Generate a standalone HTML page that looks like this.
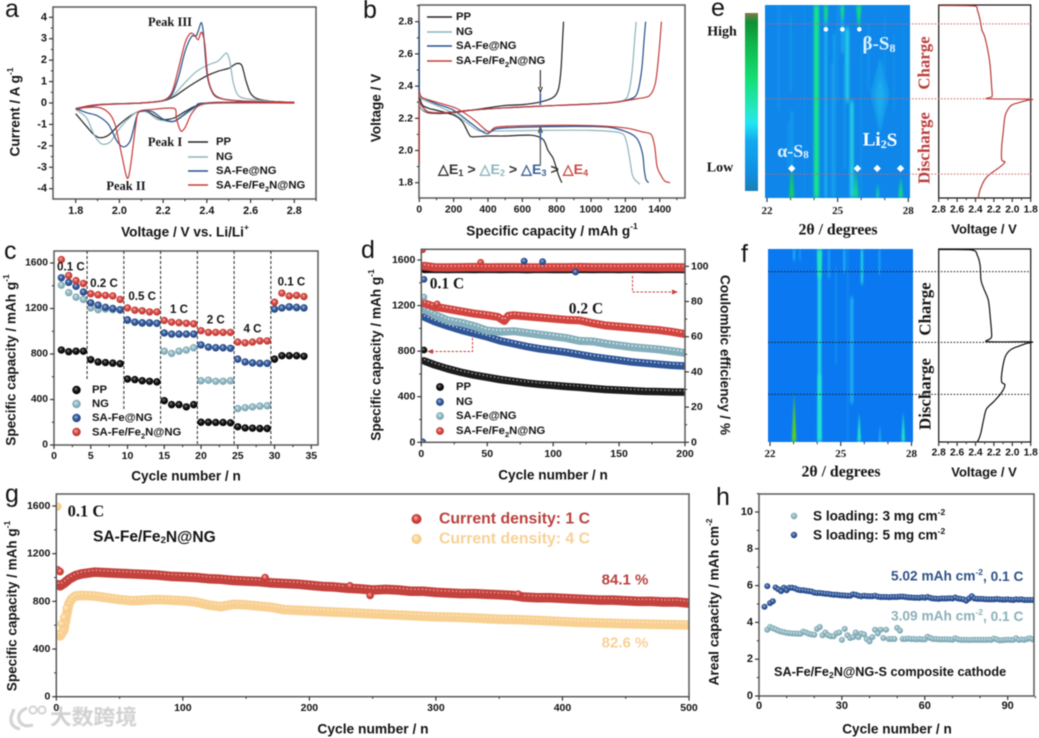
<!DOCTYPE html>
<html lang="en">
<head>
<meta charset="utf-8">
<title>Battery performance figure</title>
<style>
html,body{margin:0;padding:0;background:#fff;}
svg{display:block;filter:blur(.4px);}
text{font-family:"Liberation Sans",sans-serif;font-weight:bold;fill:#141414;dominant-baseline:central;}
.tick{font-size:11px;}
.lab{font-size:13.6px;text-anchor:middle;}
.leg{font-size:11.3px;}
.ser{font-family:"Liberation Serif",serif;font-size:12.5px;text-anchor:middle;}
.letter{font-size:25px;font-weight:normal;dominant-baseline:auto;}
.frame{fill:none;stroke:#5a5a5a;stroke-width:1.5;}
</style>
</head>
<body>
<svg id="figure" xmlns="http://www.w3.org/2000/svg" width="1039" height="738" viewBox="0 0 1039 738">
<defs>
<radialGradient id="bead-black" cx=".5" cy=".5" r=".6" fx=".4" fy=".35"><stop offset="0" stop-color="#8a8a8a"/><stop offset=".45" stop-color="#111"/><stop offset="1" stop-color="#000"/></radialGradient>
<radialGradient id="bead-light" cx=".5" cy=".5" r=".6" fx=".4" fy=".35"><stop offset="0" stop-color="#d8e8ec"/><stop offset=".5" stop-color="#8db5c0"/><stop offset="1" stop-color="#6c98a5"/></radialGradient>
<radialGradient id="bead-blue" cx=".5" cy=".5" r=".6" fx=".4" fy=".35"><stop offset="0" stop-color="#a9bfe0"/><stop offset=".5" stop-color="#2f5597"/><stop offset="1" stop-color="#1f3f78"/></radialGradient>
<radialGradient id="bead-red" cx=".5" cy=".5" r=".6" fx=".4" fy=".35"><stop offset="0" stop-color="#f4b8b0"/><stop offset=".5" stop-color="#d2433e"/><stop offset="1" stop-color="#b8302e"/></radialGradient>
<radialGradient id="bead-yellow" cx=".5" cy=".5" r=".6" fx=".4" fy=".35"><stop offset="0" stop-color="#fff0d8"/><stop offset=".5" stop-color="#f9d394"/><stop offset="1" stop-color="#f3c277"/></radialGradient>
<linearGradient id="colorbar-gradient" x1="0" y1="0" x2="0" y2="1">
<stop offset="0" stop-color="#807a45"/><stop offset=".05" stop-color="#0f8f35"/><stop offset=".18" stop-color="#0fb84c"/><stop offset=".38" stop-color="#14e078"/><stop offset=".55" stop-color="#28e6c8"/><stop offset=".62" stop-color="#22e6f2"/><stop offset=".72" stop-color="#14a8ee"/><stop offset=".9" stop-color="#118fe0"/><stop offset="1" stop-color="#1a7fb4"/>
</linearGradient>
<filter id="heat-blur-e" x="-50%" y="-20%" width="200%" height="140%"><feGaussianBlur stdDeviation="1 2.4"/></filter>
<filter id="heat-blur-f" x="-50%" y="-20%" width="200%" height="140%"><feGaussianBlur stdDeviation=".9 2"/></filter>
<clipPath id="clip-e"><rect x="765" y="5" width="145" height="193"/></clipPath>
<clipPath id="clip-f"><rect x="768" y="249" width="145" height="193"/></clipPath>
<clipPath id="clip-d"><rect x="421.3" y="249.3" width="263.7" height="193"/></clipPath>
<clipPath id="clip-g"><rect x="56.3" y="494" width="632.7" height="202.7"/></clipPath>
<clipPath id="clip-h"><rect x="759" y="494" width="275" height="202"/></clipPath>
</defs>

<!-- PANEL A -->
<g id="panel-a">
<text class="letter" x="5" y="17">a</text>
<text class="ser" x="170" y="22">Peak III</text>
<text class="ser" x="165" y="142">Peak I</text>
<text class="ser" x="126" y="186">Peak II</text>
<text class="leg" x="216" y="142">PP</text>
<text class="leg" x="216" y="157">NG</text>
<text class="leg" x="216" y="171">SA-Fe@NG</text>
<text class="leg" x="216" y="185.5">SA-Fe/Fe<tspan dy="3" font-size="7.5">2</tspan><tspan dy="-3">N@NG</tspan></text>
<text class="lab" x="185" y="232">Voltage / V vs. Li/Li<tspan dy="-5" font-size="8.5">+</tspan></text>
<text class="lab" transform="translate(15 112) rotate(-90)">Current / A g<tspan dy="-5" font-size="8.5">-1</tspan></text>
</g>

<!-- PANEL B -->
<g id="panel-b">
<text class="letter" x="363" y="18">b</text>
<text class="leg" x="456" y="17">PP</text>
<text class="leg" x="456" y="32">NG</text>
<text class="leg" x="456" y="46">SA-Fe@NG</text>
<text class="leg" x="456" y="61">SA-Fe/Fe<tspan dy="3" font-size="7.5">2</tspan><tspan dy="-3">N@NG</tspan></text>
<text x="438" y="170" font-size="14.2"><tspan style="fill:#333">△E</tspan><tspan dy="3" font-size="9" style="fill:#333">1</tspan><tspan dy="-3" style="fill:#333"> &gt; </tspan><tspan style="fill:#8db5c0">△E</tspan><tspan dy="3" font-size="9" style="fill:#8db5c0">2</tspan><tspan dy="-3" style="fill:#333"> &gt; </tspan><tspan style="fill:#3a6296">△E</tspan><tspan dy="3" font-size="9" style="fill:#3a6296">3</tspan><tspan dy="-3" style="fill:#333"> &gt; </tspan><tspan style="fill:#c84a46">△E</tspan><tspan dy="3" font-size="9" style="fill:#c84a46">4</tspan></text>
<text class="lab" x="552" y="231">Specific capacity / mAh g<tspan dy="-5" font-size="8.5">-1</tspan></text>
<text class="lab" transform="translate(376 108) rotate(-90)">Voltage / V</text>
</g>

<!-- PANEL C -->
<g id="panel-c">
<text class="letter" x="4" y="259">c</text>
<text class="lab" x="186" y="476">Cycle number / n</text>
<text class="lab" transform="translate(11 360) rotate(-90)">Specific capacity / mAh g<tspan dy="-5" font-size="8.5">-1</tspan></text>
<text class="leg" x="92" y="390">PP</text>
<text class="leg" x="92" y="404">NG</text>
<text class="leg" x="92" y="418">SA-Fe@NG</text>
<text class="leg" x="92" y="432.5">SA-Fe/Fe<tspan dy="3" font-size="7.5">2</tspan><tspan dy="-3">N@NG</tspan></text>
</g>

<!-- PANEL D -->
<g id="panel-d">
<text class="letter" x="361" y="258">d</text>
<text class="lab" x="553" y="475">Cycle number / n</text>
<text class="lab" transform="translate(376 355) rotate(-90)">Specific capacity / mAh g<tspan dy="-5" font-size="8.5">-1</tspan></text>
<text class="lab" transform="translate(725 355) rotate(90)">Coulombic efficiency / %</text>
<text class="leg" x="456" y="387">PP</text>
<text class="leg" x="456" y="402">NG</text>
<text class="leg" x="456" y="416">SA-Fe@NG</text>
<text class="leg" x="456" y="431">SA-Fe/Fe<tspan dy="3" font-size="7.5">2</tspan><tspan dy="-3">N@NG</tspan></text>
</g>

<!-- PANEL E -->
<g id="panel-e">
<text class="letter" x="711" y="16">e</text>
<text class="ser" x="722" y="32" style="font-size:14px">High</text>
<text class="ser" x="720" y="168" style="font-size:14px">Low</text>
<rect x="745" y="13" width="13" height="178" fill="url(#colorbar-gradient)"/>
</g>

<!-- PANEL F -->
<g id="panel-f">
<text class="letter" x="741" y="262">f</text>
</g>

<!-- PANEL G -->
<g id="panel-g">
<text class="letter" x="5" y="502">g</text>
<text class="ser" x="86" y="511" style="font-size:16.5px">0.1 C</text>
<text x="93" y="537" font-size="15.6">SA-Fe/Fe<tspan dy="3" font-size="9.5">2</tspan><tspan dy="-3">N@NG</tspan></text>
<text x="439" y="519" font-size="16" textLength="151" lengthAdjust="spacingAndGlyphs" style="fill:#b9413d">Current density: 1 C</text>
<text x="439" y="539" font-size="16" textLength="151" lengthAdjust="spacingAndGlyphs" style="fill:#f8d196">Current density: 4 C</text>
<text x="625" y="580" font-size="15" text-anchor="middle" style="fill:#b9413d">84.1 %</text>
<text x="625" y="643" font-size="15" text-anchor="middle" style="fill:#f8d196">82.6 %</text>
<text class="lab" x="373" y="729" style="font-size:13.8px">Cycle number / n</text>
<text class="lab" transform="translate(12 606) rotate(-90)" style="font-size:13.5px">Specific capacity / mAh g<tspan dy="-5" font-size="8.5">-1</tspan></text>
</g>

<!-- PANEL H -->
<g id="panel-h">
<text class="letter" x="716" y="505">h</text>
<text x="813" y="516" font-size="13.6">S loading: 3 mg cm<tspan dy="-4" font-size="8.5">-2</tspan></text>
<text x="813" y="535" font-size="13.6">S loading: 5 mg cm<tspan dy="-4" font-size="8.5">-2</tspan></text>
<text x="891" y="576" font-size="13.7" style="fill:#2e5287">5.02 mAh cm<tspan dy="-4" font-size="8.5" style="fill:#2e5287">-2</tspan><tspan dy="4" style="fill:#2e5287">, 0.1 C</tspan></text>
<text x="891" y="616" font-size="13.7" style="fill:#8bb0b9">3.09 mAh cm<tspan dy="-4" font-size="8.5" style="fill:#8bb0b9">-2</tspan><tspan dy="4" style="fill:#8bb0b9">, 0.1 C</tspan></text>
<text x="774" y="672" font-size="12.7">SA-Fe/Fe<tspan dy="3" font-size="8.5">2</tspan><tspan dy="-3">N@NG-S composite cathode</tspan></text>
<text class="lab" x="897" y="729">Cycle number / n</text>
<text class="lab" transform="translate(714 602) rotate(-90)" style="font-size:13.8px">Areal capacity / mAh cm<tspan dy="-5" font-size="8.5">-2</tspan></text>
</g>

<!-- WATERMARK -->
<g id="watermark">
<path d="M14 709 L11 717 Q10 727 20 729 M27 708 Q17 712 19 720 Q22 728 33 725" fill="none" stroke="#d4d4d4" stroke-width="3.2"/>
<circle cx="33" cy="710" r="3.6" fill="none" stroke="#d4d4d4" stroke-width="2"/>
<circle cx="42" cy="710" r="3.6" fill="none" stroke="#d4d4d4" stroke-width="2"/>
<text x="50" y="718" font-size="21" textLength="87" lengthAdjust="spacingAndGlyphs" style="font-family:'Liberation Sans','Noto Sans CJK SC',sans-serif;font-weight:bold;fill:#cfcfcf;stroke:#e8e8e8;stroke-width:.6">大数跨境</text>
</g>
</svg>

<script>
/* ---------- PANEL A DATA ---------- */
const aXTicks=['1.8','2.0','2.2','2.4','2.6','2.8'];
const aYTicks=['-4','-3','-2','-1','0','1','2','3','4'];
const aPpUpV=[1.8,1.85,1.9,2.0,2.1,2.2,2.25,2.3,2.35,2.4,2.45,2.5,2.52,2.54,2.56,2.58,2.6,2.63,2.7,2.8];
const aPpUpI=[-.3,-.15,-.08,-.03,0,.1,.3,.65,.98,1.27,1.48,1.62,1.75,1.85,1.75,1,.45,.2,.08,.03];
const aPpDnV=[1.8,1.85,1.88,1.91,1.95,2.0,2.05,2.09,2.13,2.17,2.2,2.25,2.3,2.36,2.45,2.8];
const aPpDnI=[-.5,-1.1,-1.45,-1.62,-1.5,-1,-.6,-.4,-.42,-.65,-.78,-.7,-.4,-.1,.03,.03];
const aNgUpV=[1.8,1.9,2.1,2.2,2.25,2.3,2.35,2.4,2.45,2.47,2.49,2.505,2.52,2.54,2.58,2.73];
const aNgUpI=[-.3,-.08,0,.1,.4,.95,1.45,1.75,1.95,2.15,2.33,1.95,1,.4,.2,.05];
const aNgDnV=[1.8,1.85,1.88,1.91,1.93,1.96,2,2.05,2.09,2.13,2.17,2.2,2.25,2.3,2.36,2.45,2.8];
const aNgDnI=[-.3,-.7,-1.4,-1.85,-1.93,-1.8,-1.2,-.65,-.38,-.45,-.75,-.82,-.87,-.55,-.15,0,0];
const aSaUpV=[1.8,1.9,2.1,2.2,2.24,2.27,2.3,2.33,2.35,2.36,2.375,2.385,2.4,2.42,2.45,2.55,2.8];
const aSaUpI=[-.3,-.1,0,.12,.4,1.2,2.4,3.1,3.12,3.35,3.75,3.2,1.4,.6,.25,.1,.03];
const aSaDnV=[1.8,1.85,1.9,1.95,1.99,2.02,2.05,2.08,2.1,2.15,2.2,2.25,2.3,2.35,2.4,2.8];
const aSaDnI=[-.25,-.45,-.6,-1,-1.8,-2.05,-1.75,-.6,-.38,-.4,-.75,-.85,-.5,-.15,0,0];
const aRedUpV=[1.8,1.9,2.1,2.2,2.24,2.27,2.3,2.325,2.345,2.36,2.375,2.39,2.405,2.43,2.47,2.55,2.8];
const aRedUpI=[-.25,-.08,0,.12,.5,1.6,2.8,3.25,3.15,2.95,3.3,2.8,1.2,.45,.2,.1,.03];
const aRedDnV=[1.8,1.9,1.95,1.98,2.01,2.035,2.05,2.075,2.09,2.15,2.25,2.26,2.28,2.3,2.33,2.37,2.45,2.8];
const aRedDnI=[-.25,-.2,-.45,-1,-2.4,-3.5,-3,-1,-.4,-.3,-.25,-.7,-1.3,-1.15,-.5,-.08,0,0];

/* ---------- PANEL B DATA ---------- */
const bXTicks=['0','200','400','600','800','1000','1200','1400'];
const bYTicks=['1.8','2.0','2.2','2.4','2.6','2.8'];
const bPpDisQ=[2,5,20,60,100,200,250,290,310,400,500,650,720,750,780,810,830];
const bPpDisV=[2.36,2.32,2.28,2.26,2.25,2.22,2.18,2.1,2.085,2.09,2.09,2.095,2.07,2,1.95,1.85,1.8];
const bPpChgQ=[0,10,50,120,200,300,400,500,600,700,780,810,825,835,840];
const bPpChgV=[2.3,2.26,2.235,2.23,2.235,2.25,2.265,2.28,2.285,2.3,2.33,2.38,2.5,2.7,2.8];
const bNgDisQ=[0,15,100,200,280,340,400,700,1000,1170,1205,1225,1240,1255,1285];
const bNgDisV=[2.35,2.32,2.28,2.23,2.17,2.125,2.12,2.125,2.125,2.11,2.06,1.95,1.85,1.82,1.79];
const bNgChgQ=[0,10,50,150,300,500,800,1100,1190,1220,1240,1255,1263];
const bNgChgV=[2.3,2.26,2.24,2.235,2.25,2.265,2.28,2.295,2.31,2.36,2.5,2.7,2.8];
const bSaDisQ=[0,15,100,200,300,390,450,600,900,1100,1220,1270,1300,1310,1320,1335];
const bSaDisV=[2.36,2.33,2.29,2.25,2.17,2.105,2.135,2.145,2.15,2.145,2.11,2.07,1.98,1.88,1.82,1.8];
const bSaChgQ=[0,50,150,300,500,800,1100,1230,1270,1295,1310,1318];
const bSaChgV=[2.3,2.24,2.235,2.25,2.265,2.28,2.295,2.32,2.36,2.5,2.7,2.8];
const bRedDisQ=[0,15,100,220,320,405,450,650,1000,1200,1300,1350,1370,1385,1410,1430,1460];
const bRedDisV=[2.37,2.33,2.3,2.26,2.19,2.115,2.145,2.155,2.155,2.14,2.115,2.1,2.03,1.9,1.84,1.81,1.8];
const bRedChgQ=[0,50,150,300,500,800,1100,1260,1340,1375,1395,1410];
const bRedChgV=[2.3,2.24,2.235,2.25,2.265,2.28,2.295,2.32,2.34,2.42,2.6,2.8];

/* ---------- PANEL C DATA ---------- */
const cXTicks=['0','5','10','15','20','25','30','35'];
const cYTicks=['0','400','800','1200','1600'];
const cDividers=[4.5,9.5,14.5,19.5,24.5,29.5];
const cDividerFloors=[570,310,190,0,0,0];
const cRateLabels=['0.1 C','0.2 C','0.5 C','1 C','2 C','4 C','0.1 C'];
const cRateCycles=[2.3,6.8,12,17,22,27,32.3];
const cRateCaps=[1565,1420,1305,1190,1100,1020,1435];
const cPP=[835,820,825,825,750,730,725,720,715,580,575,565,560,555,390,355,355,335,355,200,200,198,198,195,160,150,148,145,145,755,785,785,785,780];
const cNG=[1405,1340,1300,1280,1205,1190,1195,1190,1185,1095,1080,1070,1070,1070,825,805,825,835,855,565,570,560,560,565,320,328,335,342,345,1195,1205,1210,1205,1205];
const cSA=[1470,1430,1395,1345,1250,1230,1210,1200,1190,1100,1080,1075,1075,1070,985,975,975,975,975,880,860,855,855,850,755,730,722,718,718,1195,1205,1215,1210,1205];
const cRed=[1630,1490,1445,1420,1330,1320,1315,1310,1280,1205,1185,1180,1170,1170,1095,1080,1075,1070,1065,1005,990,990,990,990,905,898,905,915,915,1255,1335,1310,1315,1305];

/* ---------- PANEL D DATA ---------- */
const dXTicks=['0','50','100','150','200'];
const dYTicks=['0','400','800','1200','1600'];
const dRightTicks=['0','20','40','60','80','100'];
const dCycles=[2,10,20,30,40,50,60,70,80,90,100,110,120,130,140,150,160,170,180,190,200];
const dPP=[715,680,645,615,590,570,550,535,520,508,500,490,482,472,463,458,452,447,445,442,440];
const dNG=[1100,1060,1020,985,955,925,890,865,840,820,805,790,770,750,735,720,705,695,685,675,670];
const dSA=[1170,1120,1070,1050,1020,980,970,975,960,945,930,915,890,885,865,850,835,825,815,800,785];
const dRedCycles=[2,10,20,30,40,50,58,63,66,70,80,90,100,110,120,130,140,150,160,170,180,190,200];
const dRed=[1220,1190,1170,1150,1130,1115,1100,1065,1110,1115,1105,1095,1085,1075,1070,1045,1025,1015,1005,995,985,970,950];
const dCePP=[97.5,97.6,97.5,97.6,97.5,97.6,97.5,97.6,97.4,97.6,97.5,97.5,97.6,97.5,97.6,97.5,97.6,97.5,97.5,97.6,97.5];
const dCeRed=[100.2,99.4,99.3,99.4,99.5,99.3,99.4,99.4,99.3,99.3,99.4,99.4,99.5,99.4,99.4,99.3,99.4,99.4,99.3,99.4,99.3];
const dOutlierCycles=[78,92,117,2,2,2,1,1,12,45];
const dOutlierCaps=[1590,1585,1495,1430,810,1275,1690,5,1215,1580];
const dOutlierSeries=['blue','blue','blue','blue','black','light','red','blue','red','red'];

/* ---------- PANEL E DATA ---------- */
const eTicks=['22','25','28'];
const eVTicks=['2.8','2.6','2.4','2.2','2.0','1.8'];
const ePeakTheta=[24.1,24.5,24.5,25.2,25.2,25.9,25.4,25.6,24.85,23.05,23.05,25.78,26.7,27.68,26.8,26.8,26.8,26.8,22.5,23.0,26.3,27.0,27.4,24.75,25.3,22.9,23.6,26.0,27.8,25.0];
const ePeakFrom=[0,0,8,0,7,0,12,50,15,84,55,87,93,90,28,46,38,46,0,5,10,5,15,30,30,60,0,20,10,0];
const ePeakTo=[100,8,100,7,25,11,50,100,100,100,84,100,100,100,46,66,46,58,55,45,45,35,55,100,85,85,100,100,85,50];
const ePeakLevel=[.74,.78,.26,.75,.24,.8,.36,.4,.16,.92,.18,.82,.7,.78,.12,.12,.2,.2,.08,.1,.08,.07,.07,.1,.1,.08,.05,.07,.05,.07];
const ePeakTopWidth=[.22,.16,.1,.16,.1,.22,.18,.16,.1,.02,.08,.02,.02,.02,.05,.8,.05,.4,.08,.08,.08,.08,.08,.08,.08,.08,.08,.08,.08,.08];
const ePeakBottomWidth=[.22,.14,.1,.1,.08,.06,.18,.16,.1,.22,.08,.2,.12,.2,.8,.05,.4,.05,.08,.08,.08,.08,.08,.08,.08,.08,.08,.08,.08,.08];
const eMarkT=[9.8,48.6,87.6];
const eBetaTheta=[24.5,25.2,25.92];
const eBetaT=[12.6,12.6,12.6];
const eAlphaTheta=[23.05,25.84,26.68,27.67];
const eAlphaT=[84.7,84.7,84.7,84.7];
const eCurveV=[2.8,2.42,2.38,2.35,2.33,2.3,2.26,2.24,2.225,2.22,2.27,1.8,1.85,2.0,2.05,2.08,2.1,2.115,2.115,2.08,2.15,2.25,2.3,2.35,2.37];
const eCurveT=[.3,.5,2.6,7.8,13,16.4,25,31.9,42.2,47.4,48.6,48.8,49.5,51.7,54.3,57.8,66.4,73.3,80.2,81.5,84.5,87.9,90.5,95.7,100];

/* ---------- PANEL F DATA ---------- */
const fTicks=['22','25','28'];
const fVTicks=['2.8','2.6','2.4','2.2','2.0','1.8'];
const fPeakTheta=[24.1,24.1,24.1,23.02,23.02,23.27,24.5,25.15,25.9,26.64,25.47,25.78,26.66,27.65,25.3,24.8];
const fPeakFrom=[0,15,65,76,0,0,0,0,0,0,25,86,92,85,0,10];
const fPeakTo=[15,65,100,100,6,6,15,12,18,13,80,100,100,100,100,60];
const fPeakLevel=[.6,.42,.52,1,.28,.18,.2,.28,.42,.2,.22,.58,.32,.58,.05,.08];
const fPeakTopWidth=[.22,.16,.18,.01,.08,.06,.08,.08,.1,.08,.14,.02,.02,.01,.1,.1];
const fPeakBottomWidth=[.18,.16,.2,.2,.08,.06,.08,.08,.1,.08,.14,.16,.08,.16,.1,.1];
const fMarkT=[11.7,48.4,75.3];
const fCurveV=[2.8,2.44,2.38,2.35,2.34,2.31,2.26,2.24,2.225,2.27,1.8,1.85,2.0,2.06,2.09,2.115,2.115,2.08,2.12,2.2,2.28,2.31,2.34,2.36,2.38];
const fCurveT=[.3,.5,3.3,8.5,16.2,20.5,26.6,35.2,45.5,48,48.1,49,51.7,54.3,57.8,64.7,69,70.5,74.6,79,82.8,88,95,98,100];

/* ---------- PANEL G DATA ---------- */
const gXTicks=['0','100','200','300','400','500'];
const gYTicks=['0','400','800','1200','1600'];
const g1cCycles=[1,3,6,10,15,20,30,40,50,60,70,80,90,100,110,120,130,140,150,160,170,180,190,200,210,220,230,240,250,260,270,280,290,300,310,320,330,340,350,360,370,380,390,400,410,420,430,440,450,460,470,480,490,500];
const g1c=[940,930,950,985,1015,1030,1045,1040,1035,1030,1025,1020,1010,1005,1000,990,985,975,970,965,955,950,945,935,925,920,910,905,895,900,895,885,885,875,870,865,865,860,855,850,835,830,830,825,820,815,810,810,805,800,800,795,795,785];
const g4cCycles=[1,3,6,8,10,12,15,20,30,40,50,60,70,80,90,100,110,120,130,140,150,160,170,180,190,200,210,220,230,240,250,260,270,280,290,300,310,320,330,340,350,360,370,380,390,400,410,420,430,440,450,460,470,480,490,500];
const g4c=[520,510,560,680,780,820,845,850,845,830,815,805,810,815,810,805,795,770,755,775,770,760,750,730,725,720,715,710,705,700,695,690,685,680,675,670,668,665,660,655,650,648,645,640,635,630,625,622,618,615,612,610,608,606,604,602];
const g1cOutlierCycles=[1,3,165,248,365,232];
const g1cOutlierCaps=[1065,1050,1000,850,860,930];
const g4cOutlierCycles=[1,4,6,8];
const g4cOutlierCaps=[1595,610,665,740];

/* ---------- PANEL H DATA ---------- */
const hXTicks=['0','30','60','90'];
const hYTicks=['0','2','4','6','8','10'];
const h5mgStart=2;
const h5mg=[4.85,5.97,5.05,5.15,5.9,5.8,5.7,5.88,5.75,5.88,5.88,5.85,5.78,5.75,5.75,5.72,5.7,5.68,5.62,5.6,5.6,5.58,5.56,5.55,5.52,5.5,5.5,5.48,5.47,5.46,5.45,5.45,5.52,5.5,5.45,5.42,5.45,5.43,5.42,5.42,5.45,5.4,5.38,5.38,5.38,5.37,5.38,5.38,5.38,5.4,5.4,5.38,5.36,5.35,5.34,5.34,5.33,5.36,5.34,5.38,5.33,5.3,5.29,5.28,5.3,5.3,5.3,5.31,5.3,5.35,5.3,5.28,5.25,5.18,5.3,5.42,5.3,5.28,5.28,5.27,5.26,5.25,5.25,5.25,5.27,5.25,5.24,5.24,5.25,5.23,5.22,5.25,5.24,5.25,5.22,5.22,5.22,5.22,5.22];
const h3mgStart=3;
const h3mg=[3.6,3.75,3.68,3.62,3.55,3.5,3.47,3.43,3.42,3.4,3.4,3.38,3.38,3.5,3.45,3.38,3.35,3.33,3.65,3.75,3.3,3.45,3.3,3.25,3.25,3.4,3.45,3.05,3.65,3.3,3.15,3.2,3.45,3.2,3.4,3.35,3.1,2.97,3.2,3.6,3.4,3.6,3.15,3.6,3.1,3.1,3.1,3.7,3.55,3.1,3.1,3.12,3.1,3.1,3.08,3.1,3.08,3.08,3.22,3.15,3.1,3.1,3.08,3.08,3.08,3.08,3.07,3.06,3.14,3.08,3.05,3.05,3.05,3.04,3.05,3.05,3.05,3.05,3.05,3.05,3.06,3.05,3.12,3.08,3.02,3.03,3.05,3.06,3.05,3.05,3.14,3.05,3.07,3.05,3.1,3.14,3.08,3.08];

/* ---------- HELPERS ---------- */
const NS='http://www.w3.org/2000/svg';
function mk(parent,tag,attrs){
  const el=document.createElementNS(NS,tag);
  for(const k in attrs){el.setAttribute(k,attrs[k]);}
  parent.appendChild(el);
  return el;
}
function linear(d0,d1,r0,r1){return v=>r0+(v-d0)*(r1-r0)/(d1-d0);}
function smoothPath(px,py){
  let d='M'+px[0].toFixed(2)+' '+py[0].toFixed(2);
  const k=1/7;
  for(let i=0;i<px.length-1;i++){
    const a=Math.max(i-1,0),b=Math.min(i+2,px.length-1);
    const c1x=px[i]+(px[i+1]-px[a])*k,c1y=py[i]+(py[i+1]-py[a])*k;
    const c2x=px[i+1]-(px[b]-px[i])*k,c2y=py[i+1]-(py[b]-py[i])*k;
    d+=' C'+c1x.toFixed(2)+' '+c1y.toFixed(2)+' '+c2x.toFixed(2)+' '+c2y.toFixed(2)+' '+px[i+1].toFixed(2)+' '+py[i+1].toFixed(2);
  }
  return d;
}
function drawFrame(g,x0,y0,x1,y1,name,color){
  const r=mk(g,'rect',{x:x0,y:y0,width:x1-x0,height:y1-y0,class:'frame'});
  if(color){r.style.stroke=color;r.style.strokeWidth='1.2';}
  
  
}
function drawXAxis(g,name,sx,yBase,labels,labelY,subdiv,fontSize,fontFamily,limit){
  const vals=labels.map(parseFloat);
  vals.forEach((v,i)=>{
    const t=mk(g,'line',{x1:sx(v),x2:sx(v),y1:yBase,y2:yBase+4,stroke:'#333','stroke-width':1.2});
    
    
    const lab=mk(g,'text',{x:sx(v),y:labelY,'text-anchor':'middle',class:'tick'});
    lab.textContent=labels[i];
    if(fontSize){lab.style.fontSize=fontSize+'px';}
    if(fontFamily){lab.style.fontFamily=fontFamily;}
    
    
    const step=i<vals.length-1?vals[i+1]-vals[i]:vals[1]-vals[0];
    for(let j=1;j<subdiv;j++){
      const mv=v+step*j/subdiv;
      if(limit!==undefined&&mv>limit){continue;}
      if(i===vals.length-1&&limit===undefined){continue;}
      const m=mk(g,'line',{x1:sx(mv),x2:sx(mv),y1:yBase,y2:yBase+2.2,stroke:'#333','stroke-width':1});
      
      
    }
  });
}
function drawYAxis(g,name,sy,xBase,labels,dir,subdiv,fontSize,limit){
  const vals=labels.map(parseFloat);
  vals.forEach((v,i)=>{
    const t=mk(g,'line',{x1:xBase,x2:xBase+dir*4,y1:sy(v),y2:sy(v),stroke:'#333','stroke-width':1.2});
    
    
    const lab=mk(g,'text',{x:xBase+dir*6,y:sy(v),'text-anchor':dir<0?'end':'start',class:'tick'});
    lab.textContent=labels[i];
    if(fontSize){lab.style.fontSize=fontSize+'px';}
    
    
    const step=i<vals.length-1?vals[i+1]-vals[i]:vals[1]-vals[0];
    for(let j=1;j<subdiv;j++){
      const mv=v+step*j/subdiv;
      if(i===vals.length-1&&(limit===undefined||mv>limit)){continue;}
      const m=mk(g,'line',{x1:xBase,x2:xBase+dir*2.2,y1:sy(mv),y2:sy(mv),stroke:'#333','stroke-width':1});
      
      
    }
  });
}
function drawCurve(g,name,xs,ys,sx,sy,color,w){
  const p=mk(g,'path',{d:smoothPath(xs.map(sx),ys.map(sy)),fill:'none',stroke:color,'stroke-width':w||1.2,'stroke-linejoin':'round'});
  
  
}
function drawBead(g,name,cx,cy,r,grad){
  const c=mk(g,'circle',{cx:cx,cy:cy,r:r,fill:'url(#bead-'+grad+')'});
  
  
}
function drawBand(g,name,xs,ys,sx,sy,color,light,w,off){
  const pts=xs.map((x,i)=>sx(x).toFixed(2)+','+sy(ys[i]).toFixed(2));
  const band=mk(g,'polyline',{points:pts.join(' '),fill:'none',stroke:color,'stroke-width':w,'stroke-linejoin':'round','stroke-linecap':'round'});
  
  
  const pts2=xs.map((x,i)=>sx(x).toFixed(2)+','+(sy(ys[i])-off).toFixed(2));
  const hi=mk(g,'polyline',{points:pts2.join(' '),fill:'none',stroke:light,'stroke-width':1.5,'stroke-dasharray':'1.6 2.2'});
  
  
}
function legendLine(g,name,x0,x1,y,color){
  const l=mk(g,'line',{x1:x0,x2:x1,y1:y,y2:y,stroke:color,'stroke-width':1.4});
  
  
}
const COL={pp:'#232323',ng:'#8db3ba',sa:'#24508c',red:'#c63b3b'};

/* ---------- PANEL A ---------- */
(function(){
  const g=document.getElementById('panel-a');
  const sx=linear(1.8,2.8,75.7,294.3), sy=linear(0,4,103,17.3);
  drawFrame(g,53,7,316,199,'cv');
  drawXAxis(g,'cv',sx,199,aXTicks,211,2,10.8,null,2.9);
  drawYAxis(g,'cv',sy,53,aYTicks,-1,2,11);
  drawCurve(g,'curve-pp-anodic',aPpUpV,aPpUpI,sx,sy,COL.pp);
  drawCurve(g,'curve-pp-cathodic',aPpDnV,aPpDnI,sx,sy,COL.pp);
  drawCurve(g,'curve-ng-anodic',aNgUpV,aNgUpI,sx,sy,COL.ng);
  drawCurve(g,'curve-ng-cathodic',aNgDnV,aNgDnI,sx,sy,COL.ng);
  drawCurve(g,'curve-sa-fe-anodic',aSaUpV,aSaUpI,sx,sy,COL.sa);
  drawCurve(g,'curve-sa-fe-cathodic',aSaDnV,aSaDnI,sx,sy,COL.sa);
  drawCurve(g,'curve-sa-fe-fe2n-anodic',aRedUpV,aRedUpI,sx,sy,COL.red);
  drawCurve(g,'curve-sa-fe-fe2n-cathodic',aRedDnV,aRedDnI,sx,sy,COL.red);
  legendLine(g,'legend-line-pp',188,208,142,COL.pp);
  legendLine(g,'legend-line-ng',188,208,157,COL.ng);
  legendLine(g,'legend-line-sa-fe',188,208,171,COL.sa);
  legendLine(g,'legend-line-sa-fe-fe2n',188,208,185,COL.red);
})();

/* ---------- PANEL B ---------- */
(function(){
  const g=document.getElementById('panel-b');
  const sx=linear(0,1400,419.3,659.7), sy=linear(1.8,2.8,182.7,21.7);
  drawFrame(g,419,5,685,198,'voltage');
  drawXAxis(g,'voltage',sx,198,bXTicks,210,2,10.3,null,1550);
  drawYAxis(g,'voltage',sy,419,bYTicks,-1,2,10.5,2.9);
  const sp=mk(g,'line',{x1:sx(0),x2:sx(0),y1:sy(2.8),y2:sy(2.3),stroke:COL.sa,'stroke-width':1.2});
  
  
  const sp2=mk(g,'line',{x1:sx(0),x2:sx(0),y1:sy(2.36),y2:sy(1.92),stroke:COL.red,'stroke-width':1.2});
  
  
  drawCurve(g,'pp-discharge',bPpDisQ,bPpDisV,sx,sy,COL.pp);
  drawCurve(g,'pp-charge',bPpChgQ,bPpChgV,sx,sy,COL.pp);
  drawCurve(g,'ng-discharge',bNgDisQ,bNgDisV,sx,sy,COL.ng);
  drawCurve(g,'ng-charge',bNgChgQ,bNgChgV,sx,sy,COL.ng);
  drawCurve(g,'sa-fe-discharge',bSaDisQ,bSaDisV,sx,sy,COL.sa);
  drawCurve(g,'sa-fe-charge',bSaChgQ,bSaChgV,sx,sy,COL.sa);
  drawCurve(g,'sa-fe-fe2n-discharge',bRedDisQ,bRedDisV,sx,sy,COL.red);
  drawCurve(g,'sa-fe-fe2n-charge',bRedChgQ,bRedChgV,sx,sy,COL.red);
  legendLine(g,'legend-line-pp',427,452,17,COL.pp);
  legendLine(g,'legend-line-ng',427,452,32,COL.ng);
  legendLine(g,'legend-line-sa-fe',427,452,46,COL.sa);
  legendLine(g,'legend-line-sa-fe-fe2n',427,452,61,COL.red);
  const ax=sx(705);
  const a1=mk(g,'path',{d:'M'+ax+' 70V88 M'+(ax-2)+' 87L'+ax+' 92L'+(ax+2)+' 87',fill:'none',stroke:'#111','stroke-width':1});
  
  
  const a2=mk(g,'path',{d:'M'+ax+' 93V105',fill:'none',stroke:'#3a5f9c','stroke-width':1.6});
  
  
  const a3=mk(g,'path',{d:'M'+ax+' 165V128 M'+(ax-2)+' 133L'+ax+' 127L'+(ax+2)+' 133',fill:'none',stroke:'#555','stroke-width':1.2});
  
  
  const a4=mk(g,'path',{d:'M'+ax+' 129V141',fill:'none',stroke:'#3a5f9c','stroke-width':1.6});
  
  
})();

/* ---------- PANEL C ---------- */
(function(){
  const g=document.getElementById('panel-c');
  const sx=linear(0,35,54,311.3), sy=linear(0,1600,445,263);
  drawFrame(g,54,251,318,445,'rate');
  cDividers.forEach((c,i)=>{
    const l=mk(g,'line',{x1:sx(c),x2:sx(c),y1:251,y2:sy(cDividerFloors[i]),stroke:'#222','stroke-width':1,'stroke-dasharray':'3 2'});
    
    
  });
  drawXAxis(g,'rate',sx,445,cXTicks,456,2,10.5);
  drawYAxis(g,'rate',sy,54,cYTicks,-1,2,10.3);
  [[cPP,'black','bead-pp'],[cNG,'light','bead-ng'],[cSA,'blue','bead-sa-fe'],[cRed,'red','bead-sa-fe-fe2n']].forEach(s=>{
    s[0].forEach((v,i)=>{drawBead(g,s[2],sx(i+1),sy(v),3.7,s[1]);});
  });
  cRateLabels.forEach((t,i)=>{
    const lab=mk(g,'text',{x:sx(cRateCycles[i]),y:sy(cRateCaps[i]),'text-anchor':'middle','font-size':11.6});
    lab.textContent=t;
    
    
  });
  drawBead(g,'legend-bead-pp',76.5,390,4.2,'black');
  drawBead(g,'legend-bead-ng',76.5,404,4.2,'light');
  drawBead(g,'legend-bead-sa-fe',76.5,418,4.2,'blue');
  drawBead(g,'legend-bead-sa-fe-fe2n',76.5,432,4.2,'red');
})();

/* ---------- PANEL D ---------- */
(function(){
  const g=document.getElementById('panel-d');
  const sx=linear(0,200,421.3,685), sy=linear(0,1600,442.3,260), sr=linear(0,100,442.3,266.3);
  const c=mk(g,'g',{'clip-path':'url(#clip-d)'});
  
  
  drawBand(c,'ce-pp',dCycles,dCePP,sx,sr,'#111','#555',5,1);
  drawBand(c,'cap-pp',dCycles,dPP,sx,sy,'#1c1c1c','#8a8a8a',7.5,1.5);
  drawBand(c,'cap-ng',dCycles,dNG,sx,sy,'#2f5597','#b4c6e0',7.5,1.5);
  drawBand(c,'cap-sa-fe',dCycles,dSA,sx,sy,'#84aebb','#dfeaee',8,1.5);
  drawBand(c,'cap-sa-fe-fe2n',dRedCycles,dRed,sx,sy,'#d2443f','#f2b7b0',8,1.5);
  drawBand(c,'ce-red',dCycles,dCeRed,sx,sr,'#d2443f','#f0aaa4',8.5,1.5);
  dOutlierCycles.forEach((cy,i)=>{drawBead(c,'outlier-bead',sx(cy),sy(dOutlierCaps[i]),3.4,dOutlierSeries[i]);});
  drawFrame(g,421.3,249.3,685,442.3,'cycling');
  drawXAxis(g,'cycling',sx,442.3,dXTicks,454,2,10.5);
  drawYAxis(g,'cycling',sy,421.3,dYTicks,-1,2,10.5,1680);
  drawYAxis(g,'cycling-right',sr,685,dRightTicks,1,2,10.5);
  const t1=mk(g,'text',{x:447,y:284,'text-anchor':'middle',class:'ser'});
  t1.textContent='0.1 C';
  t1.style.fontSize='15.5px';
  
  
  const t2=mk(g,'text',{x:586,y:309,'text-anchor':'middle',class:'ser'});
  t2.textContent='0.2 C';
  t2.style.fontSize='15.5px';
  
  
  const p1=mk(g,'path',{d:'M632.5 276V292H675',fill:'none',stroke:'#c8413d','stroke-width':1,'stroke-dasharray':'2.5 1.5'});
  
  
  const h1=mk(g,'path',{d:'M672 289.5L678 292L672 294.5Z',fill:'#c8413d'});
  
  
  const p2=mk(g,'path',{d:'M472.5 338V351.5H430',fill:'none',stroke:'#c8413d','stroke-width':1,'stroke-dasharray':'2.5 1.5'});
  
  
  const h2=mk(g,'path',{d:'M433 349L427 351.5L433 354Z',fill:'#c8413d'});
  
  
  drawBead(g,'legend-bead-pp',440,387,3.9,'black');
  drawBead(g,'legend-bead-ng',440,402,3.9,'blue');
  drawBead(g,'legend-bead-sa-fe',440,416,3.9,'light');
  drawBead(g,'legend-bead-sa-fe-fe2n',440,431,3.9,'red');
})();

/* ---------- HEATMAP SHARED ---------- */
function mixHex(a,b,t){
  const pa=[1,3,5].map(i=>parseInt(a.substr(i,2),16));
  const pb=[1,3,5].map(i=>parseInt(b.substr(i,2),16));
  return 'rgb('+pa.map((v,i)=>Math.round(v+(pb[i]-v)*t)).join(',')+')';
}
function heatColor(level,bg){
  const stops=[[0,bg],[.3,'#20bff0'],[.55,'#22e8d0'],[.75,'#18e488'],[.95,'#16d050'],[1,'#58d020']];
  for(let i=0;i<stops.length-1;i++){
    if(level<=stops[i+1][0]){
      return mixHex(stops[i][1],stops[i+1][1],(level-stops[i][0])/(stops[i+1][0]-stops[i][0]));
    }
  }
  return stops[stops.length-1][1];
}
function drawHeat(g,name,clip,blur,bg,x0,y0,x1,y1,sx,st,thetas,froms,tos,levels,topW,botW){
  const hm=mk(g,'g',{'clip-path':'url(#'+clip+')'});
  
  
  const r=mk(hm,'rect',{x:x0,y:y0,width:x1-x0,height:y1-y0,fill:bg});
  
  
  const inner=mk(hm,'g',{filter:'url(#'+blur+')'});
  thetas.forEach((th,i)=>{
    const a=st(froms[i]),b=st(tos[i]);
    const pts=[[sx(th-topW[i]/2),a],[sx(th+topW[i]/2),a],[sx(th+botW[i]/2),b],[sx(th-botW[i]/2),b]];
    const p=mk(inner,'polygon',{points:pts.map(q=>q[0].toFixed(2)+','+q[1].toFixed(2)).join(' '),fill:heatColor(levels[i],bg)});
    
    
  });
}

/* ---------- PANEL E ---------- */
(function(){
  const g=document.getElementById('panel-e');
  const sx=linear(22,28,767,908.3), st=linear(0,100,5,198), sv=linear(2.8,1.8,938.7,1030.7);
  drawHeat(g,'xrd-e','clip-e','heat-blur-e','#0e86ea',765,5,910,198,sx,st,ePeakTheta,ePeakFrom,ePeakTo,ePeakLevel,ePeakTopWidth,ePeakBottomWidth);
  eBetaTheta.forEach((th,i)=>{
    const c=mk(g,'circle',{cx:sx(th),cy:st(eBetaT[i]),r:2.3,fill:'#fff'});
    
    
  });
  eAlphaTheta.forEach((th,i)=>{
    const x=sx(th),y=st(eAlphaT[i]);
    const d=mk(g,'polygon',{points:[[x-3.7,y],[x,y-3.7],[x+3.7,y],[x,y+3.7]].join(' '),fill:'#fff'});
    
    
  });
  const tb=mk(g,'text',{x:879,y:44,class:'ser'});
  tb.innerHTML='β-S<tspan dy="4" font-size="12" style="fill:#dff2ff">8</tspan>';
  tb.style.fontSize='19px';
  tb.style.fill='#dff2ff';
  
  
  const tl=mk(g,'text',{x:880,y:140,class:'ser'});
  tl.innerHTML='Li<tspan dy="4" font-size="12" style="fill:#fff">2</tspan><tspan dy="-4" style="fill:#fff">S</tspan>';
  tl.style.fontSize='19px';
  tl.style.fill='#fff';
  
  
  const ta=mk(g,'text',{x:793,y:151,class:'ser'});
  ta.innerHTML='α-S<tspan dy="4" font-size="11" style="fill:#dff2ff">8</tspan>';
  ta.style.fontSize='18px';
  ta.style.fill='#dff2ff';
  
  
  drawXAxis(g,'xrd-e',sx,198,eTicks,211,3,11,'"Liberation Serif",serif',28);
  const tt=mk(g,'text',{x:838,y:230,class:'ser'});
  tt.textContent='2θ / degrees';
  tt.style.fontSize='15.8px';
  
  
  drawFrame(g,938.7,5,1030.7,198,'voltage-e','#111');
  drawCurve(g,'voltage-curve-e',eCurveV,eCurveT,sv,st,'#b93b38',1.2);
  drawXAxis(g,'voltage-e',sv,198,eVTicks,210,2,10.2,null,2.8);
  const vt=mk(g,'text',{x:984,y:229,class:'lab'});
  vt.textContent='Voltage / V';
  vt.style.fontSize='13px';
  
  
  eMarkT.forEach(t=>{
    const l=mk(g,'line',{x1:765,x2:1031,y1:st(t),y2:st(t),stroke:'#c96a68','stroke-width':1,'stroke-dasharray':'1.6 1.6'});
    
    
  });
  const c1=mk(g,'text',{transform:'translate(924 63) rotate(-90)',class:'ser'});
  c1.textContent='Charge';
  c1.style.fontSize='16.8px';
  c1.style.fill='#bb3f3d';
  
  
  const c2=mk(g,'text',{transform:'translate(924 148) rotate(-90)',class:'ser'});
  c2.textContent='Discharge';
  c2.style.fontSize='16.8px';
  c2.style.fill='#bb3f3d';
  
  
})();

/* ---------- PANEL F ---------- */
(function(){
  const g=document.getElementById('panel-f');
  const sx=linear(22,28,770,911.5), st=linear(0,100,249,442), sv=linear(2.8,1.8,938.7,1030.7);
  drawHeat(g,'xrd-f','clip-f','heat-blur-f','#0a78f0',768,249,913,442,sx,st,fPeakTheta,fPeakFrom,fPeakTo,fPeakLevel,fPeakTopWidth,fPeakBottomWidth);
  drawXAxis(g,'xrd-f',sx,442,fTicks,454,3,11,'"Liberation Serif",serif',28);
  const tt=mk(g,'text',{x:841,y:472,class:'ser'});
  tt.textContent='2θ / degrees';
  tt.style.fontSize='15.8px';
  
  
  drawFrame(g,938.7,249,1030.7,442,'voltage-f','#111');
  drawCurve(g,'voltage-curve-f',fCurveV,fCurveT,sv,st,'#111',1.2);
  drawXAxis(g,'voltage-f',sv,442,fVTicks,453,2,10.2,null,2.8);
  const vt=mk(g,'text',{x:984,y:472,class:'lab'});
  vt.textContent='Voltage / V';
  vt.style.fontSize='13px';
  
  
  fMarkT.forEach(t=>{
    const l=mk(g,'line',{x1:768,x2:1031,y1:st(t),y2:st(t),stroke:'#222','stroke-width':1,'stroke-dasharray':'1.6 1.6'});
    
    
  });
  const c1=mk(g,'text',{transform:'translate(925 309) rotate(-90)',class:'ser'});
  c1.textContent='Charge';
  c1.style.fontSize='16.8px';
  
  
  const c2=mk(g,'text',{transform:'translate(925 394) rotate(-90)',class:'ser'});
  c2.textContent='Discharge';
  c2.style.fontSize='16.8px';
  
  
})();

/* ---------- PANEL G ---------- */
(function(){
  const g=document.getElementById('panel-g');
  const sx=linear(0,500,56.3,689), sy=linear(0,1600,696.7,506);
  const c=mk(g,'g',{'clip-path':'url(#clip-g)'});
  
  
  drawBand(c,'capacity-4c',g4cCycles,g4c,sx,sy,'#f8d092','#fde6c2',9.5,2);
  drawBand(c,'capacity-1c',g1cCycles,g1c,sx,sy,'#c4423d','#e8938b',9.5,2);
  g1cOutlierCycles.forEach((cy,i)=>{drawBead(c,'outlier-bead-1c',sx(cy),sy(g1cOutlierCaps[i]),3.8,'red');});
  g4cOutlierCycles.forEach((cy,i)=>{drawBead(c,'outlier-bead-4c',sx(cy),sy(g4cOutlierCaps[i]),4,'yellow');});
  drawFrame(g,56.3,494,689,696.7,'long-cycling');
  drawXAxis(g,'long-cycling',sx,696.7,gXTicks,708,2,10.5);
  drawYAxis(g,'long-cycling',sy,56.3,gYTicks,-1,2,10.5,1700);
  drawBead(g,'legend-bead-1c',416.5,519,5,'red');
  drawBead(g,'legend-bead-4c',416.5,539,5,'yellow');
})();

/* ---------- PANEL H ---------- */
(function(){
  const g=document.getElementById('panel-h');
  const sx=linear(0,90,759,1007.7), sy=linear(0,10,696,512);
  const c=mk(g,'g',{'clip-path':'url(#clip-h)'});
  
  
  h3mg.forEach((v,i)=>{drawBead(c,'bead-3mg',sx(h3mgStart+i),sy(v),3,'light');});
  h5mg.forEach((v,i)=>{drawBead(c,'bead-5mg',sx(h5mgStart+i),sy(v),3,'blue');});
  drawFrame(g,759,494,1034,696,'areal');
  drawXAxis(g,'areal',sx,696,hXTicks,706,3,11,null,100);
  drawYAxis(g,'areal',sy,759,hYTicks,-1,2,11,11);
  drawBead(g,'legend-bead-3mg',794,516,3.2,'light');
  drawBead(g,'legend-bead-5mg',794,535,3.2,'blue');
})();
</script>
</body>
</html>
